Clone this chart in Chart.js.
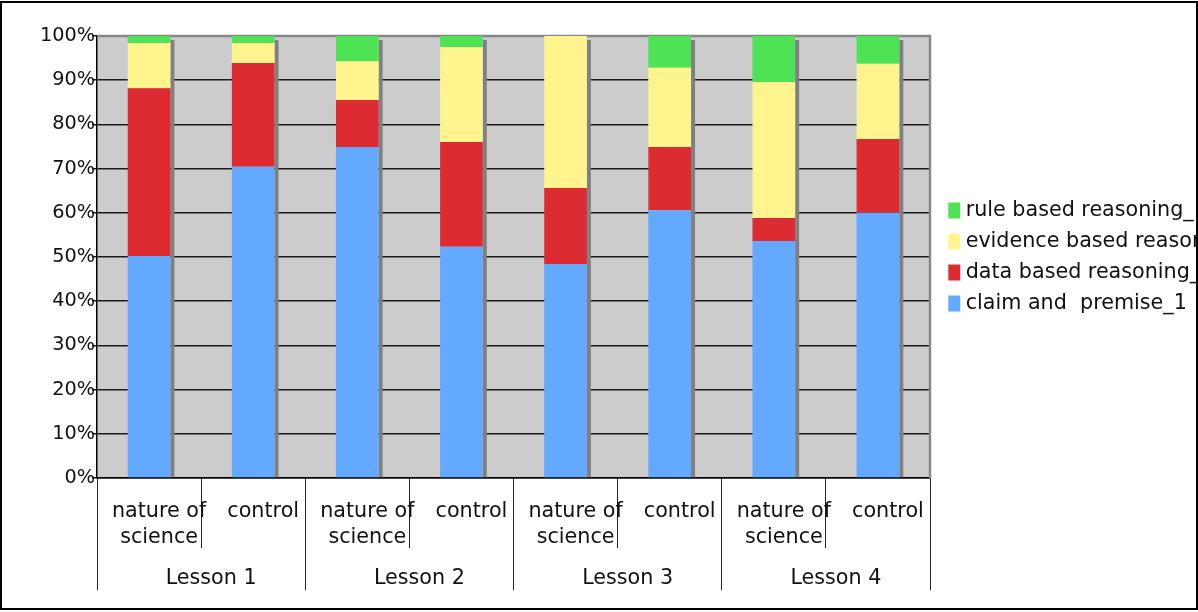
<!DOCTYPE html>
<html>
<head>
<meta charset="utf-8">
<script src="https://cdn.jsdelivr.net/npm/chart.js@4.4.1/dist/chart.umd.min.js"></script>
<style>
  html, body { margin: 0; padding: 0; background: #fff; }
  #frame { position: absolute; left: 0; top: 1px; width: 1194px; height: 605px; border: 2px solid #000; overflow: hidden; }
  canvas { display: block; }
</style>
</head>
<body>
<div id="frame"><canvas id="c" width="1194" height="605"></canvas></div>
<script>
// ---- data ----
const groupLabels = ['nature of science', 'control', 'nature of science', 'control', 'nature of science', 'control', 'nature of science', 'control'];
const lessonLabels = ['Lesson 1', 'Lesson 2', 'Lesson 3', 'Lesson 4'];
const seriesNames = ['claim and  premise_1', 'data based reasoning_1', 'evidence based reasoning_1', 'rule based reasoning_1'];
const claimPremise = [50.2, 70.4, 74.9, 52.3, 48.4, 60.6, 53.6, 60.0];
const dataBased = [38.0, 23.5, 10.6, 23.7, 17.2, 14.3, 5.2, 16.7];
const evidenceBased = [10.2, 4.5, 8.8, 21.5, 34.4, 17.9, 30.8, 17.0];
const ruleBased = [1.6, 1.6, 5.7, 2.5, 0, 7.2, 10.4, 6.3];
const yTickValues = [0, 10, 20, 30, 40, 50, 60, 70, 80, 90, 100];

const colors = ['#62A9FF', '#DD2C31', '#FFF48D', '#4DE355'];
const seriesValues = [claimPremise, dataBased, evidenceBased, ruleBased];

// split category labels into two lines like the original
const xLabels = groupLabels.map(l => l === 'nature of science' ? ['nature of', 'science'] : l);

const FONT = 'DejaVu Sans';

const plotDecor = {
  id: 'plotDecor',
  beforeDraw(chart) {
    const {ctx, chartArea: a} = chart;
    ctx.save();
    ctx.fillStyle = '#CCCCCC';
    ctx.fillRect(a.left, a.top, a.right - a.left, a.bottom - a.top);
    ctx.restore();
  },
  beforeDatasetsDraw(chart) {
    const {ctx, chartArea: a} = chart;
    ctx.save();
    // top & right plot border (grey)
    ctx.strokeStyle = '#888888';
    ctx.lineWidth = 2.5;
    ctx.beginPath();
    ctx.moveTo(a.left, a.top);
    ctx.lineTo(a.right, a.top);
    ctx.lineTo(a.right, a.bottom);
    ctx.stroke();
    // bar shadows
    const metas = chart.data.datasets.map((d, i) => chart.getDatasetMeta(i));
    const n = chart.data.labels.length;
    ctx.fillStyle = '#808080';
    for (let i = 0; i < n; i++) {
      let top = Infinity, base = null, xr = null;
      metas.forEach((m, di) => {
        const el = m.data[i];
        if (!el) return;
        const v = chart.data.datasets[di].data[i];
        if (v > 0 && el.y < top) top = el.y;
        if (di === 0) { base = el.base; xr = el.x + el.width / 2; }
      });
      if (top !== Infinity) ctx.fillRect(xr, top + 4, 4, base - top - 4);
    }
    ctx.restore();
  }
};

new Chart(document.getElementById('c'), {
  type: 'bar',
  data: {
    labels: xLabels,
    datasets: seriesNames.map((name, i) => ({
      label: name,
      data: seriesValues[i],
      backgroundColor: colors[i],
      borderWidth: 0,
      categoryPercentage: 1.0,
      barPercentage: 0.41
    }))
  },
  options: {
    responsive: false,
    devicePixelRatio: 1,
    animation: false,
    layout: { padding: { top: 33, left: 0, right: 0, bottom: 18 } },
    plugins: {
      tooltip: { enabled: false },
      legend: {
        position: 'right',
        fullSize: false,
        reverse: true,
        maxWidth: 253,
        labels: {
          boxWidth: 2,
          boxHeight: 6,
          padding: 10.3,
          color: '#111',
          font: { family: FONT, size: 20.7 },
          generateLabels(chart) {
            const items = Chart.defaults.plugins.legend.labels.generateLabels(chart);
            return items.map(it => Object.assign(it, { lineWidth: 10, strokeStyle: it.fillStyle, lineJoin: 'miter' }));
          }
        }
      }
    },
    scales: {
      x: {
        type: 'category',
        position: 'bottom',
        stacked: true,
        weight: 0,
        grid: { display: true, drawOnChartArea: false, drawTicks: true, tickLength: 70, offset: true, color: '#222', lineWidth: 1 },
        border: { display: true, color: '#000', width: 1.5 },
        ticks: { color: '#111', font: { family: FONT, size: 20.7, lineHeight: 1.27 }, padding: -50, labelOffset: 10, maxRotation: 0, minRotation: 0, autoSkip: false },
        afterFit(s) { s.height = 70; }
      },
      x2: {
        type: 'category',
        position: 'bottom',
        labels: lessonLabels,
        weight: 1,
        grid: { display: true, drawOnChartArea: false, drawTicks: true, tickLength: 42, offset: true, color: '#222', lineWidth: 1 },
        border: { display: false },
        ticks: { color: '#111', font: { family: FONT, size: 20.7, lineHeight: 1.27 }, padding: -25, labelOffset: 10, maxRotation: 0, minRotation: 0, autoSkip: false },
        afterFit(s) { s.height = 42; }
      },
      y: {
        type: 'linear',
        position: 'left',
        stacked: true,
        min: 0,
        max: 100,
        afterBuildTicks(s) { s.ticks = yTickValues.map(v => ({ value: v })); },
        grid: { color: '#1a1a1a', lineWidth: 1.5, drawTicks: true, tickLength: 5 },
        border: { display: true, color: '#000', width: 1.5 },
        ticks: { color: '#111', font: { family: FONT, size: 19.3 }, padding: -3, callback: v => v + '%' },
        afterFit(s) { s.width = 95; }
      },
      y2: {
        type: 'linear',
        position: 'right',
        display: true,
        grid: { display: false, drawTicks: false },
        border: { display: false },
        ticks: { display: false },
        afterFit(s) { s.width = 13; }
      }
    }
  },
  plugins: [plotDecor]
});
</script>
</body>
</html>
